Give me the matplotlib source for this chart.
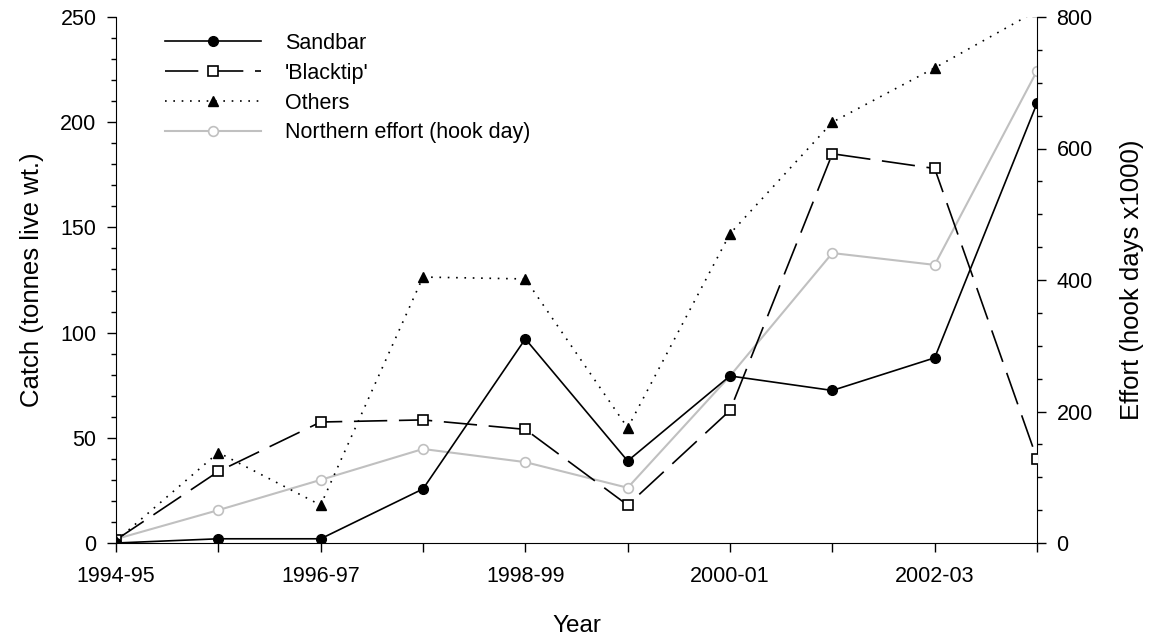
import matplotlib.pyplot as plt
from matplotlib.ticker import MultipleLocator

plt.rcParams['font.family'] = ['Liberation Sans', 'DejaVu Sans']

years = ['1994-95', '1995-96', '1996-97', '1997-98', '1998-99',
         '1999-00', '2000-01', '2001-02', '2002-03', '2003-04']
sandbar = [0, 2, 2, 25.7, 97, 39, 79.4, 72.5, 88, 209]
blacktip = [1.5, 34, 57.5, 58.5, 54, 18, 63, 185, 178, 40]
others = [1, 43, 18, 126.4, 125.5, 54.7, 147, 200, 225.8, 253]
effort = [6, 50, 96, 143, 123, 84, 254, 441, 423, 718]

x = list(range(len(years)))

fig = plt.figure(figsize=(11.51, 6.39), dpi=100)
ax = fig.add_axes([116/1151, 1-543/639, (1037-116)/1151, (543-17)/639])
ax2 = ax.twinx()

grey = '#c0c0c0'
l4, = ax2.plot(x, effort, color=grey, lw=1.5, marker='o', ms=7, mfc='white', mec=grey, mew=1.2,
               label='Northern effort (hook day)')
l2, = ax.plot(x, blacktip, color='black', lw=1.2, dashes=(20, 7), marker='s', ms=6.5, mfc='white',
              mec='black', mew=1.2, label="'Blacktip'")
l3, = ax.plot(x, others, color='black', lw=1.2, ls=(0, (1, 4)), marker='^', ms=7, mfc='black',
              mec='black', label='Others')
l1, = ax.plot(x, sandbar, color='black', lw=1.2, marker='o', ms=7, mfc='black', label='Sandbar')
ax.set_zorder(ax2.get_zorder() + 1)
ax.patch.set_visible(False)

ax.set_xlim(0, 9)
ax.set_ylim(0, 250)
ax2.set_ylim(0, 800)
ax.set_xticks(x)
ax.set_xticklabels([y if i % 2 == 0 else '' for i, y in enumerate(years)])
ax.yaxis.set_major_locator(MultipleLocator(50))
ax.yaxis.set_minor_locator(MultipleLocator(10))
ax2.yaxis.set_major_locator(MultipleLocator(200))
ax2.yaxis.set_minor_locator(MultipleLocator(50))

for a in (ax, ax2):
    a.spines['top'].set_visible(False)
    a.tick_params(which='major', direction='out', length=6.5, width=1, labelsize=15.5, pad=7.5)
    a.tick_params(which='minor', direction='out', length=3.6, width=1)
ax.spines['right'].set_visible(False)
ax2.spines['left'].set_visible(False)
ax2.spines['bottom'].set_visible(False)
ax.tick_params(axis='x', pad=10)

ax.set_xlabel('Year', fontsize=17.5, labelpad=20)
ax.set_ylabel('Catch (tonnes live wt.)', fontsize=18.5, labelpad=12)
ax2.set_ylabel('Effort (hook days x1000)', fontsize=18.5, labelpad=20)

ax.legend(handles=[l1, l2, l3, l4], loc='upper left', bbox_to_anchor=(0.0532, 0.9696), frameon=False,
          borderpad=0, borderaxespad=0, fontsize=15.5, handlelength=4.46, handletextpad=1.1,
          labelspacing=0.41)

fig.savefig('out.png', dpi=100)
